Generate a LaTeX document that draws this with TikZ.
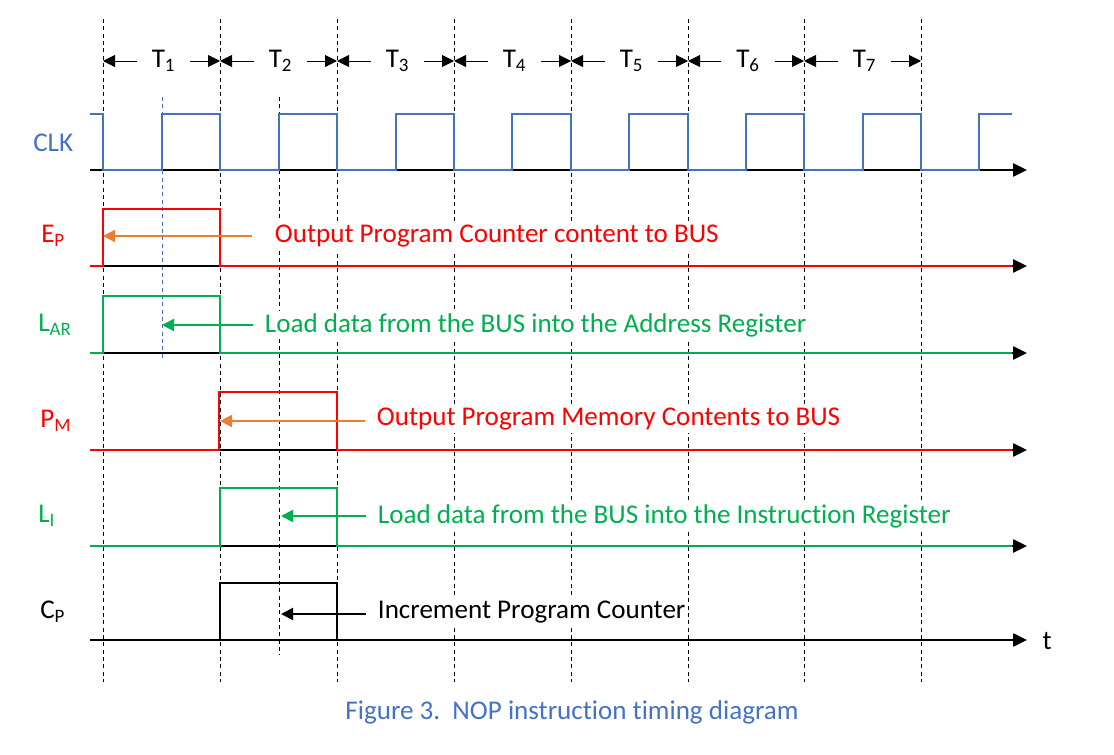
\documentclass[tikz,border=0pt]{standalone}
\usepackage{fontspec}
\setmainfont{Carlito}[Ligatures={NoCommon,NoContextual,NoRare}, Contextuals={NoAlternate}]
\usetikzlibrary{arrows.meta, positioning}

\definecolor{clkblue}{HTML}{4472C4}
\definecolor{sigred}{HTML}{FF0000}
\definecolor{siggreen}{HTML}{00B050}
\definecolor{ptrorange}{HTML}{ED7D31}

\begin{document}
\begin{tikzpicture}[
			x=0.75pt, y=-0.75pt,
			font=\fontsize{20.3}{24}\selectfont,
			grid/.style={black, line width=0.6pt, dash pattern=on 3pt off 2.5pt},
			axis/.style={-{Triangle[length=10.5pt, width=10pt]}, line width=1.1pt, black},
			wave/.style={line width=1.9pt},
			tick/.style={-{Triangle[length=9pt, width=9pt]}, line width=0.7pt, black},
			pointer/.style={-{Triangle[length=9pt, width=9pt]}, line width=1.5pt, shorten <=7pt},
			signame/.style={anchor=west, inner sep=0pt},
			msg/.style={anchor=west, fill=white, inner sep=2pt},
			tlabel/.style={inner xsep=11pt, inner ysep=0pt}
			]
			\useasboundingbox (0,0) rectangle (1114,755);
			
			% Time slot boundaries
			\foreach \x in {103,220,337,454,571,688,804,921}
				\draw[grid] (\x,19) -- (\x,682);
			\draw[grid] (279,97) -- (279,655);
			\draw[grid, clkblue] (162,97) -- (162,360);
			
			% T labels with arrows
			\foreach \i/\xl/\xr in {1/103/220, 2/220/337, 3/337/454, 4/454/571, 5/571/688, 6/688/804, 7/804/921} {
				\coordinate (tl\i) at (\xl,61);
				\coordinate (tr\i) at (\xr,61);
				\node[tlabel] (tlab\i) at ({(\xl+\xr)/2+2},61) {T\textsubscript{\i}};
				\draw[tick] (tlab\i) -- (tl\i);
				\draw[tick] (tlab\i) -- (tr\i);
			}
			
			% Time axes
			\foreach \y in {170,266,353,450,546,640}
				\draw[axis] (90,\y) -- (1027,\y);
			\node[anchor=west] (t) at (1038,641) {t};
			
			% Signal names
			\node[signame, text=clkblue] (clk) at (33,143) {CLK};
			\node[signame, text=sigred] (ep) at (41,236) {E\textsubscript{P}};
			\node[signame, text=siggreen] (lar) at (38,325) {L\textsubscript{AR}};
			\node[signame, text=sigred] (pm) at (40,421) {P\textsubscript{M}};
			\node[signame, text=siggreen] (li) at (38,516) {L\textsubscript{I}};
			\node[signame, text=black] (cp) at (40,612) {C\textsubscript{P}};
			
			% Waveforms
			\draw[wave, clkblue] (90,114) -- (103,114) -- (103,170)
				\foreach \r/\f in {162/220, 279/337, 396/454, 512/571, 629/688, 746/804, 863/921} { -- (\r,170) -- (\r,114) -- (\f,114) -- (\f,170) }
				-- (979,170) -- (979,114) -- (1012,114);
			\draw[wave, sigred] (90,266) -- (103,266) -- (103,209) -- (220,209) -- (220,266) -- (1012,266);
			\draw[wave, siggreen] (90,353) -- (103,353) -- (103,296) -- (220,296) -- (220,353) -- (1012,353);
			\draw[wave, sigred] (90,450) -- (219,450) -- (219,392) -- (337,392) -- (337,450) -- (1012,450);
			\draw[wave, siggreen] (90,546) -- (220,546) -- (220,488) -- (337,488) -- (337,546) -- (1012,546);
			\draw[wave, black] (90,640) -- (220,640) -- (220,583) -- (337,583) -- (337,640) -- (1012,640);
			
			% Descriptions
			\node[msg, text=sigred] (epmsg) at (272,236) {Output Program Counter content to BUS};
			\node[msg, text=siggreen] (larmsg) at (262,325) {Load data from the BUS into the Address Register};
			\node[msg, text=sigred] (pmmsg) at (374,419) {Output Program Memory Contents to BUS};
			\node[msg, text=siggreen] (limsg) at (375,516) {Load data from the BUS into the Instruction Register};
			\node[msg, text=black] (cpmsg) at (375,612) {Increment Program Counter};
			
			% Pointers
			\coordinate (epend) at (103,236);
			\coordinate (larend) at (162,325);
			\coordinate (pmend) at (220,421);
			\coordinate (liend) at (281,516);
			\coordinate (cpend) at (281,614);
			\draw[pointer, ptrorange, shorten <=15pt] (epmsg.west) -- (epend);
			\draw[pointer, siggreen] (larmsg.west) -- (larend);
			\draw[pointer, ptrorange] (pmmsg.west |- pmend) -- (pmend);
			\draw[pointer, siggreen] (limsg.west) -- (liend);
			\draw[pointer, black] (cpmsg.west |- cpend) -- (cpend);
			
			% Caption
			\node[text=clkblue] (caption) at (572,712) {Figure 3.\ \ NOP instruction timing diagram};
			
\end{tikzpicture}
\end{document}
